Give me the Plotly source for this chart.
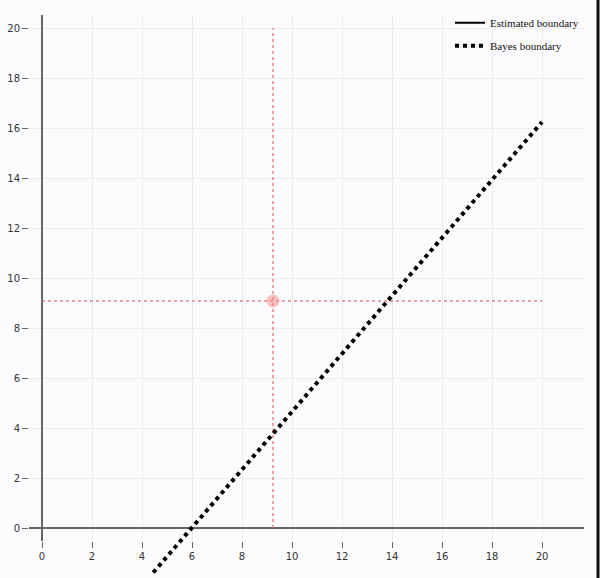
import plotly.graph_objects as go

# ---- data ----
tick_vals = [0, 2, 4, 6, 8, 10, 12, 14, 16, 18, 20]
tick_text = ["0", "2", "4", "6", "8", "10", "12", "14", "16", "18", "20"]
point_x = [9.24]
point_y = [9.08]
guide_min = 0
guide_max = 20
bayes_x = [4.45, 20.0]
bayes_y = [-1.78, 16.24]
estimated_x = [None]
estimated_y = [None]

x_range = [-0.52, 21.68]
y_range = [-0.52, 20.52]
y2_range = [-2.0, 20.52]

W, H = 600, 578
m_l, m_r, m_t, m_b = 29, 16, 15, 0
plot_w = W - m_l - m_r
plot_h = H - m_t - m_b
bottom_px = 541
y_dom0 = (H - bottom_px) / plot_h

fig = go.Figure()

# guide lines through the point
fig.add_trace(go.Scatter(
    x=[point_x[0], point_x[0]], y=[guide_min, guide_max], mode="lines",
    line=dict(color="rgba(232,110,110,0.85)", width=1.5, dash="dot"),
    showlegend=False, hoverinfo="skip"))
fig.add_trace(go.Scatter(
    x=[guide_min, guide_max], y=[point_y[0], point_y[0]], mode="lines",
    line=dict(color="rgba(232,110,110,0.85)", width=1.5, dash="dot"),
    showlegend=False, hoverinfo="skip"))
fig.add_trace(go.Scatter(
    x=point_x, y=point_y, mode="markers",
    marker=dict(size=13, color="rgba(240,140,140,0.55)", line=dict(width=0)),
    showlegend=False))

# legend entries
fig.add_trace(go.Scatter(
    x=estimated_x, y=estimated_y, mode="lines", name="Estimated boundary",
    legendgroup="est", line=dict(color="black", width=2)))
fig.add_trace(go.Scatter(
    x=bayes_x, y=bayes_y, mode="lines", name="Bayes boundary",
    legendgroup="bayes", line=dict(color="black", width=4, dash="dot"),
    xaxis="x2", yaxis="y2"))

axis_font = dict(family="DejaVu Sans", size=10, color="#333")

# right-edge frame line of the picture
edge_x = (W - 2 - m_l) / plot_w
fig.add_shape(type="line", xref="paper", yref="paper",
              x0=edge_x, x1=edge_x, y0=0, y1=(H - m_b) / plot_h,
              line=dict(color="#111", width=3))

fig.update_layout(
    width=W, height=H,
    margin=dict(l=m_l, r=m_r, t=m_t, b=m_b, autoexpand=False),
    paper_bgcolor="#fcfcfe", plot_bgcolor="rgba(0,0,0,0)",
    xaxis=dict(range=x_range, domain=[0, 1], tickvals=tick_vals, ticktext=tick_text,
               showgrid=True, gridcolor="#ececec", gridwidth=1,
               zeroline=True, zerolinecolor="#666", zerolinewidth=2,
               ticks="outside", ticklen=6, tickcolor="#666", tickwidth=1,
               tickfont=axis_font, showline=False, automargin=False,
               anchor="y", fixedrange=True),
    yaxis=dict(range=y_range, domain=[y_dom0, 1], tickvals=tick_vals, ticktext=tick_text,
               showgrid=True, gridcolor="#ececec", gridwidth=1,
               zeroline=True, zerolinecolor="#666", zerolinewidth=2,
               ticks="outside", ticklen=6, tickcolor="#666", tickwidth=1,
               tickfont=axis_font, showline=False, automargin=False,
               anchor="x", fixedrange=True),
    xaxis2=dict(range=x_range, domain=[0, 1], visible=False, anchor="y2",
                showgrid=False, zeroline=False, fixedrange=True),
    yaxis2=dict(range=y2_range, domain=[0, 1], visible=False, anchor="x2",
                showgrid=False, zeroline=False, fixedrange=True),
    legend=dict(x=1.0, xanchor="right", y=1.012, yanchor="top",
                bgcolor="rgba(0,0,0,0)",
                font=dict(family="Liberation Serif", size=11, color="#111"),
                itemwidth=30, tracegroupgap=4),
    showlegend=True,
)

fig.write_html("out.html", config={"displayModeBar": False},
               post_script="document.body.style.margin='0';")
